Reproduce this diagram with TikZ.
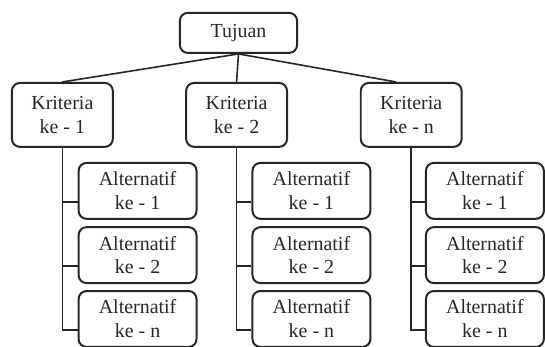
\documentclass[tikz,border=0pt]{standalone}
\usepackage{fontspec}
\setmainfont{Liberation Serif}
\begin{document}
\begin{tikzpicture}[box/.style={draw,line width=1.5pt,draw=black!85,rounded corners=6pt,align=center,inner sep=0pt,text=black!85,font=\fontsize{15}{18}\selectfont},
  krit/.style={box,minimum width=2.67cm,minimum height=1.69cm},
  alt/.style={box,minimum width=3.12cm,minimum height=1.48cm},
  garis/.style={line width=1.2pt,draw=black!85}]
\useasboundingbox (0,0) rectangle (14.42,-9.18);
\node[box,minimum width=3.1cm,minimum height=1.06cm](tujuan) at (6.31,-0.87){Tujuan};
\node[krit](k1) at (1.65,-3.04){Kriteria\\ke - 1};
\node[krit](k2) at (6.26,-3.04){Kriteria\\ke - 2};
\node[krit](kn) at (10.88,-3.04){Kriteria\\ke - n};
\node[alt](a11) at (3.64,-5.05){Alternatif\\ke - 1};
\node[alt](a12) at (3.64,-6.75){Alternatif\\ke - 2};
\node[alt](a1n) at (3.64,-8.44){Alternatif\\ke - n};
\node[alt](a21) at (8.24,-5.05){Alternatif\\ke - 1};
\node[alt](a22) at (8.24,-6.75){Alternatif\\ke - 2};
\node[alt](a2n) at (8.24,-8.44){Alternatif\\ke - n};
\node[alt](an1) at (12.83,-5.05){Alternatif\\ke - 1};
\node[alt](an2) at (12.83,-6.75){Alternatif\\ke - 2};
\node[alt](ann) at (12.83,-8.44){Alternatif\\ke - n};
\draw[garis](tujuan.south)--(k1.north);
\draw[garis](tujuan.south)--(k2.north);
\draw[garis](tujuan.south)--([xshift=-0.4cm]kn.north);
\draw[garis](k1.south)|-([yshift=-0.29cm]a11.west);
\draw[garis](k1.south)|-([yshift=-0.29cm]a12.west);
\draw[garis](k1.south)|-([yshift=-0.29cm]a1n.west);
\draw[garis](k2.south)|-([yshift=-0.29cm]a21.west);
\draw[garis](k2.south)|-([yshift=-0.29cm]a22.west);
\draw[garis](k2.south)|-([yshift=-0.29cm]a2n.west);
\draw[garis](kn.south)|-([yshift=-0.29cm]an1.west);
\draw[garis](kn.south)|-([yshift=-0.29cm]an2.west);
\draw[garis](kn.south)|-([yshift=-0.29cm]ann.west);
\end{tikzpicture}
\end{document}
